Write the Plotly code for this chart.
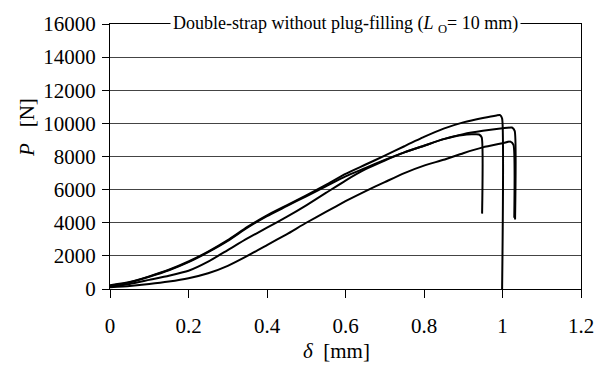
import plotly.graph_objects as go

# Curve A (highest peak, drops to 0 at ~1.0 mm)
a_x = [0, 0.05, 0.1, 0.15, 0.2, 0.25, 0.3, 0.35, 0.4, 0.45, 0.5, 0.55, 0.6, 0.65, 0.7, 0.75, 0.8, 0.85, 0.9, 0.95, 0.985, 0.994, 0.999, 0.999]
a_y = [220, 420, 760, 1160, 1660, 2260, 2950, 3750, 4450, 5050, 5650, 6280, 6950, 7500, 8050, 8620, 9180, 9680, 10060, 10330, 10480, 10500, 10300, 0]

# Curve B (starts as middle curve, drops at ~1.03 mm)
b_x = [0, 0.05, 0.1, 0.15, 0.2, 0.25, 0.3, 0.35, 0.4, 0.45, 0.5, 0.55, 0.6, 0.65, 0.7, 0.75, 0.8, 0.85, 0.9, 0.95, 1.0, 1.024, 1.031, 1.032]
b_y = [150, 300, 550, 800, 1100, 1650, 2350, 3050, 3700, 4350, 5050, 5800, 6550, 7220, 7760, 8250, 8650, 9050, 9350, 9550, 9700, 9750, 9550, 4200]

# Curve C (drops at ~0.95 mm)
c_x = [0, 0.05, 0.1, 0.15, 0.2, 0.25, 0.3, 0.35, 0.4, 0.45, 0.5, 0.55, 0.6, 0.65, 0.7, 0.75, 0.8, 0.85, 0.9, 0.94, 0.947, 0.948]
c_y = [200, 400, 740, 1130, 1620, 2220, 2900, 3700, 4400, 5000, 5600, 6200, 6800, 7300, 7800, 8250, 8650, 9050, 9300, 9330, 9150, 4550]

# Curve D (lowest)
d_x = [0, 0.05, 0.1, 0.15, 0.2, 0.25, 0.3, 0.35, 0.4, 0.45, 0.5, 0.55, 0.6, 0.65, 0.7, 0.75, 0.8, 0.85, 0.9, 0.95, 1.0, 1.02, 1.028, 1.03]
d_y = [100, 180, 300, 450, 650, 950, 1400, 2000, 2650, 3300, 4000, 4650, 5300, 5900, 6450, 7000, 7450, 7800, 8200, 8550, 8800, 8900, 8700, 4300]

x_ticks = [0, 0.2, 0.4, 0.6, 0.8, 1.0, 1.2]
x_tick_labels = ["0", "0.2", "0.4", "0.6", "0.8", "1", "1.2"]
y_ticks = [0, 2000, 4000, 6000, 8000, 10000, 12000, 14000, 16000]
y_tick_labels = ["0", "2000", "4000", "6000", "8000", "10000", "12000", "14000", "16000"]

FONT = "Liberation Serif, Times New Roman, serif"

fig = go.Figure()
for xs, ys in [(d_x, d_y), (c_x, c_y), (b_x, b_y), (a_x, a_y)]:
    fig.add_trace(go.Scatter(x=xs, y=ys, mode="lines",
                             line=dict(color="black", width=2, shape="spline", smoothing=0.5),
                             showlegend=False, hoverinfo="skip"))

fig.update_layout(
    width=607, height=370,
    margin=dict(l=110, r=26, t=18, b=81),
    paper_bgcolor="white", plot_bgcolor="white",
    font=dict(family=FONT, size=21, color="black"),
    xaxis=dict(range=[0, 1.2], tickvals=x_ticks, ticktext=x_tick_labels,
               showgrid=False, zeroline=False,
               showline=True, linecolor="black", linewidth=1, mirror=True,
               ticks="outside", ticklen=8, tickcolor="black", tickwidth=1,
               ticklabelstandoff=10,
               tickfont=dict(family=FONT, size=21, color="black")),
    yaxis=dict(range=[0, 16000], tickvals=y_ticks, ticktext=y_tick_labels,
               showgrid=True, gridcolor="#444444", gridwidth=1, zeroline=False,
               showline=True, linecolor="black", linewidth=1, mirror=True,
               ticks="outside", ticklen=7, tickcolor="black", tickwidth=1,
               ticklabelstandoff=2,
               tickfont=dict(family=FONT, size=21, color="black")),
    annotations=[
        dict(text="Double-strap without plug-filling (<i>L</i> <sub>O</sub>= 10 mm)",
             xref="paper", yref="paper", x=0.5, y=1.0, xanchor="center", yanchor="middle",
             showarrow=False, bgcolor="white", borderpad=2,
             font=dict(family=FONT, size=18, color="black")),
        dict(text="<i>P</i>   [N]", xref="paper", yref="paper",
             x=-0.175, y=0.61, xanchor="center", yanchor="middle", textangle=-90,
             showarrow=False, font=dict(family=FONT, size=21, color="black")),
        dict(text="<i>δ</i>  [mm]", xref="paper", yref="paper",
             x=0.48, y=-0.235, xanchor="center", yanchor="middle",
             showarrow=False, font=dict(family=FONT, size=21, color="black")),
    ],
)

fig.write_html("out.html")
